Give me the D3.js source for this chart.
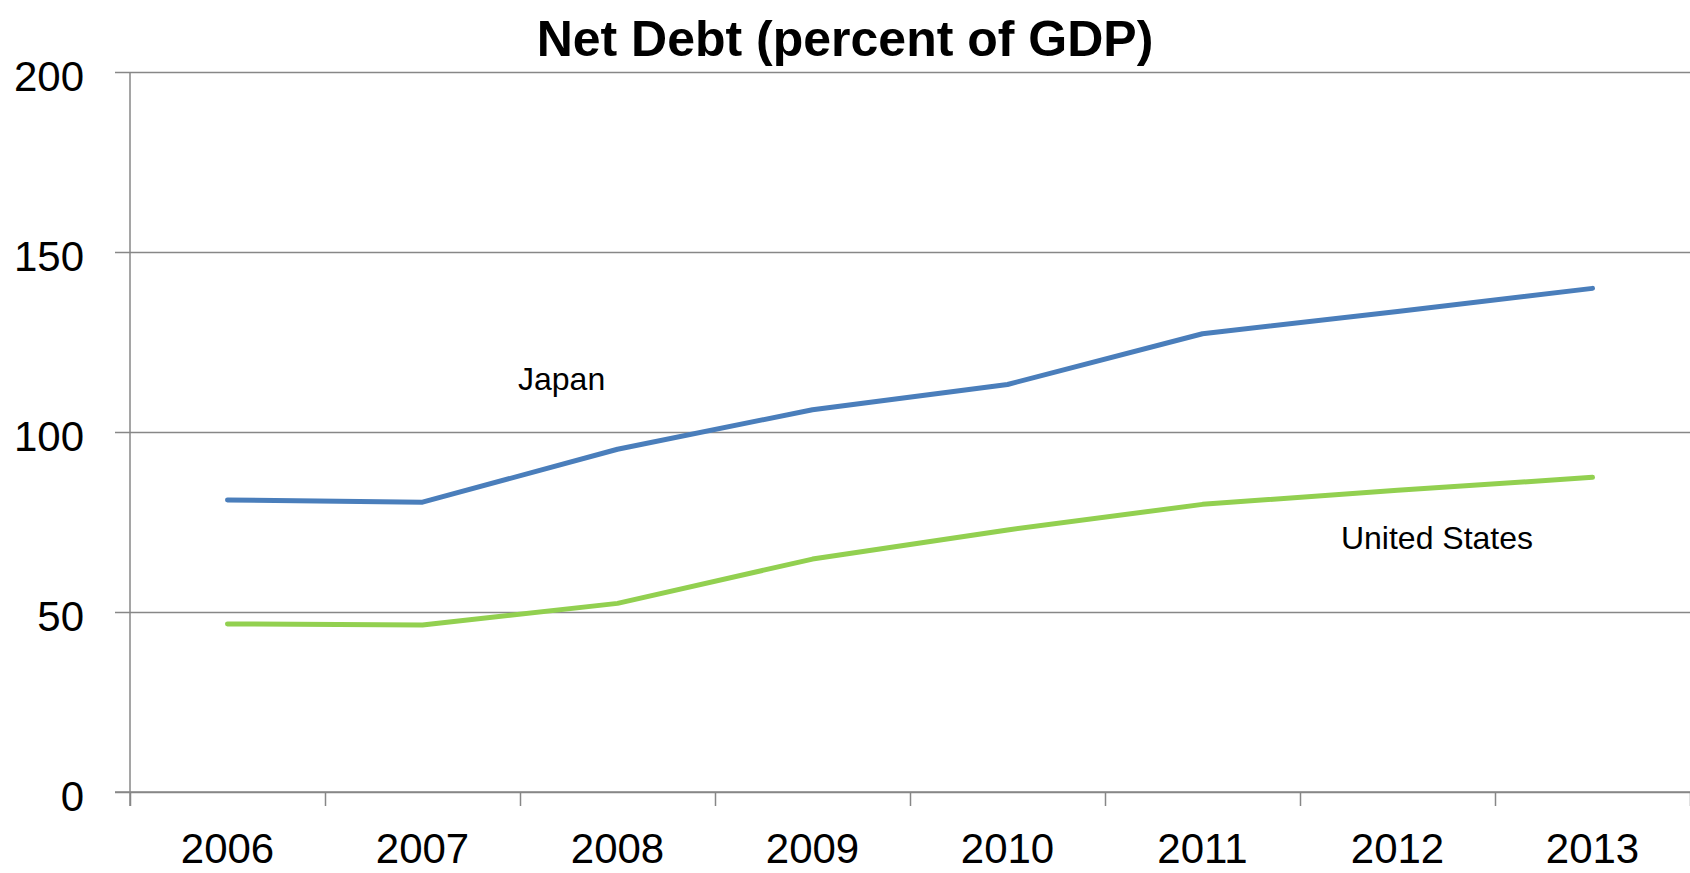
<!DOCTYPE html>
<html>
<head>
<meta charset="utf-8">
<script src="https://cdn.jsdelivr.net/npm/d3@7"></script>
<style>
  html, body { margin: 0; padding: 0; background: #fff; }
  svg { display: block; }
  text { font-family: "Liberation Sans", Arial, sans-serif; fill: #000; }
</style>
</head>
<body>
<svg id="chart" width="1690" height="873"></svg>
<script>
const years = ["2006", "2007", "2008", "2009", "2010", "2011", "2012", "2013"];
const japan = [81.1, 80.5, 95.2, 106.2, 113.2, 127.3, 133.5, 139.9];
const unitedStates = [46.7, 46.4, 52.4, 64.7, 72.8, 79.9, 83.8, 87.4];
const yTicks = [0, 50, 100, 150, 200];
const titleText = "Net Debt (percent of GDP)";

const W = 1690, H = 873;
const pLeft = 130, pRight = 1690, pTop = 72, pBottom = 792, tickOut = 14;

const svg = d3.select("#chart");

const x = d3.scaleBand().domain(years).range([pLeft, pRight]);
const xb = d3.scaleLinear().domain([0, years.length]).range([pLeft, pRight]);
const y = d3.scaleLinear().domain([0, 200]).range([pBottom, pTop]);

const gridColor = "#878787";

// horizontal gridlines
const grid = svg.append("g").attr("transform", `translate(${pLeft},0)`)
  .call(d3.axisLeft(y).tickValues(yTicks).tickSize(-(pRight - pLeft)).tickFormat(""));
grid.select(".domain").remove();
grid.selectAll("line").attr("stroke", gridColor).attr("stroke-width", 1.5);

// y-axis labels + outward ticks
const yAx = svg.append("g").attr("transform", `translate(${pLeft},0)`)
  .call(d3.axisLeft(y).tickValues(yTicks).tickSize(tickOut + 1).tickPadding(31).tickSizeOuter(0));
yAx.select(".domain").remove();
yAx.selectAll("line").attr("stroke", gridColor).attr("stroke-width", 1.5);
yAx.selectAll("text").attr("font-size", 42).attr("font-family", "Liberation Sans, Arial, sans-serif")
  .attr("fill", "#000").attr("dy", "0.43em");

// y-axis line
svg.append("line").attr("x1", pLeft).attr("x2", pLeft).attr("y1", pTop).attr("y2", pBottom + tickOut)
  .attr("stroke", gridColor).attr("stroke-width", 1.5);

// x-axis boundary ticks
const xTickAx = svg.append("g").attr("transform", `translate(0,${pBottom})`)
  .call(d3.axisBottom(xb).tickValues(d3.range(years.length + 1)).tickSize(tickOut).tickSizeOuter(0).tickFormat(""));
xTickAx.select(".domain").remove();
xTickAx.selectAll("line").attr("stroke", gridColor).attr("stroke-width", 1.5);

// x-axis line
svg.append("line").attr("x1", pLeft - tickOut - 1).attr("x2", pRight).attr("y1", pBottom).attr("y2", pBottom)
  .attr("stroke", gridColor).attr("stroke-width", 1.5);

// x labels
const xAx = svg.append("g").attr("transform", `translate(0,${pBottom})`)
  .call(d3.axisBottom(x).tickSize(0));
xAx.select(".domain").remove();
xAx.selectAll("text").attr("font-size", 42).attr("font-family", "Liberation Sans, Arial, sans-serif")
  .attr("fill", "#000").attr("y", 71).attr("dy", "0");

// lines
const line = d3.line().x((d, i) => x(years[i]) + x.bandwidth() / 2).y(d => y(d));
svg.append("path").datum(japan).attr("d", line).attr("fill", "none")
  .attr("stroke", "#4a7ebb").attr("stroke-width", 5).attr("stroke-linecap", "round").attr("stroke-linejoin", "round");
svg.append("path").datum(unitedStates).attr("d", line).attr("fill", "none")
  .attr("stroke", "#92d050").attr("stroke-width", 5).attr("stroke-linecap", "round").attr("stroke-linejoin", "round");

// series labels
svg.append("text").attr("x", 518).attr("y", 390).attr("font-size", 32).text("Japan");
svg.append("text").attr("x", 1437).attr("y", 549).attr("text-anchor", "middle").attr("font-size", 32).text("United States");

// title
svg.append("text").attr("x", W / 2).attr("y", 56).attr("text-anchor", "middle")
  .attr("font-size", 50).attr("font-weight", "bold").text(titleText);
</script>
</body>
</html>
